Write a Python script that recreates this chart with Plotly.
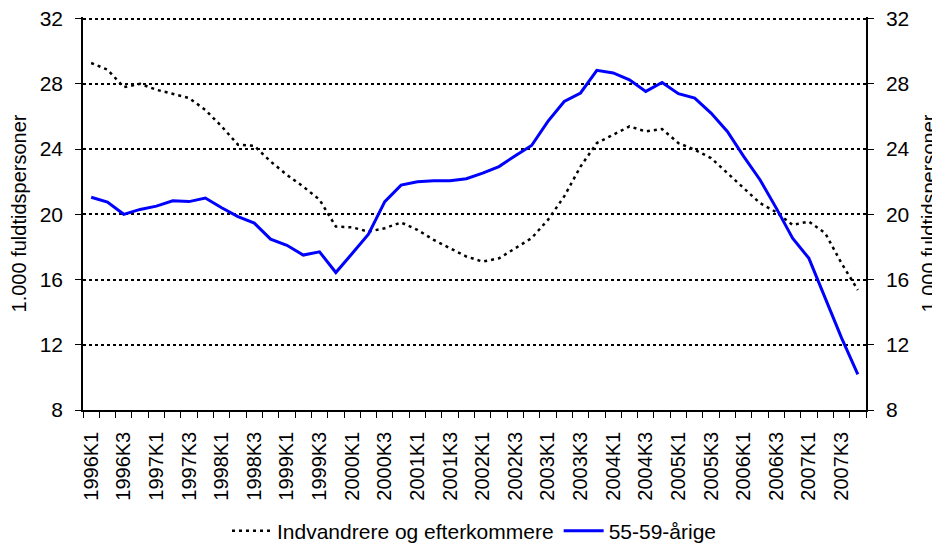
import plotly.graph_objects as go

quarters = [
    "1996K1", "1996K2", "1996K3", "1996K4", "1997K1", "1997K2", "1997K3", "1997K4",
    "1998K1", "1998K2", "1998K3", "1998K4", "1999K1", "1999K2", "1999K3", "1999K4",
    "2000K1", "2000K2", "2000K3", "2000K4", "2001K1", "2001K2", "2001K3", "2001K4",
    "2002K1", "2002K2", "2002K3", "2002K4", "2003K1", "2003K2", "2003K3", "2003K4",
    "2004K1", "2004K2", "2004K3", "2004K4", "2005K1", "2005K2", "2005K3", "2005K4",
    "2006K1", "2006K2", "2006K3", "2006K4", "2007K1", "2007K2", "2007K3", "2007K4",
]

indvandrere = [
    29.28, 28.87, 27.8, 28.0, 27.64, 27.38, 27.13, 26.4, 25.39, 24.27, 24.2, 23.24,
    22.42, 21.7, 20.9, 19.25, 19.2, 18.94, 19.15, 19.5, 19.05, 18.43, 17.92, 17.41,
    17.1, 17.3, 17.92, 18.54, 19.66, 21.1, 22.93, 24.37, 24.88, 25.39, 25.08, 25.23,
    24.37, 23.96, 23.45, 22.53, 21.6, 20.69, 20.13, 19.35, 19.56, 18.84, 17.0, 15.36,
]

aarige_55_59 = [
    21.05, 20.75, 20.0, 20.3, 20.5, 20.83, 20.78, 21.0, 20.4, 19.86, 19.46, 18.48,
    18.1, 17.5, 17.7, 16.43, 17.6, 18.78, 20.78, 21.79, 22.0, 22.06, 22.06, 22.18,
    22.53, 22.93, 23.59, 24.22, 25.7, 26.92, 27.44, 28.83, 28.67, 28.25, 27.54, 28.09,
    27.4, 27.13, 26.21, 25.08, 23.55, 22.12, 20.38, 18.54, 17.3, 14.83, 12.42, 10.19,
]

y_ticks = [8, 12, 16, 20, 24, 28, 32]
series_names = ["Indvandrere og efterkommere", "55-59-årige"]
y_title = "1.000 fuldtidspersoner"

tick_text = [q if i % 2 == 0 else "" for i, q in enumerate(quarters)]

FONT = "Liberation Sans, Arial, sans-serif"

fig = go.Figure()
fig.add_trace(go.Scatter(
    x=quarters, y=indvandrere, name=series_names[0], mode="lines",
    line=dict(color="black", width=2.5, dash="3px,4px"),
))
fig.add_trace(go.Scatter(
    x=quarters, y=aarige_55_59, name=series_names[1], mode="lines",
    line=dict(color="rgb(0,0,255)", width=3), yaxis="y2",
))

axis_common = dict(
    range=[8, 32.1], tickvals=y_ticks, ticks="outside", ticklen=6, tickcolor="black",
    tickwidth=1, showline=True, linecolor="black", linewidth=1.5,
    tickfont=dict(size=21, color="black", family=FONT),
    title=dict(text=y_title, font=dict(size=20, color="black", family=FONT), standoff=14),
    zeroline=False, fixedrange=True, automargin=False, ticklabeloverflow="allow",
)

# page body has an 8px default margin, so the figure is sized to fit the window
fig.update_layout(
    width=932, height=541,
    margin=dict(l=75, r=74, t=9, b=139),
    paper_bgcolor="white", plot_bgcolor="white",
    font=dict(family=FONT, color="black"),
    showlegend=True,
    legend=dict(orientation="h", x=0.5, xanchor="center",
                yref="container", y=0.033, yanchor="middle",
                font=dict(size=21, color="black", family=FONT), itemwidth=40,
                tracegroupgap=0),
    xaxis=dict(
        type="category", categoryorder="array", categoryarray=quarters,
        tickmode="array", tickvals=quarters, ticktext=tick_text,
        tickson="boundaries", ticks="outside", ticklen=6, tickcolor="black",
        tickangle=-90, showline=True, linecolor="black", linewidth=1.5,
        showgrid=False, tickfont=dict(size=20, color="black", family=FONT),
        range=[-0.5, 47.5], automargin=False, ticklabelstandoff=12,
    ),
    yaxis=dict(
        **axis_common, side="left",
        showgrid=True, gridcolor="black", gridwidth=1.5, griddash="dot",
        ticklabelstandoff=8,
    ),
    yaxis2=dict(
        **axis_common, side="right", overlaying="y", showgrid=False,
        ticklabelstandoff=8,
    ),
)

fig.write_html("out.html")
